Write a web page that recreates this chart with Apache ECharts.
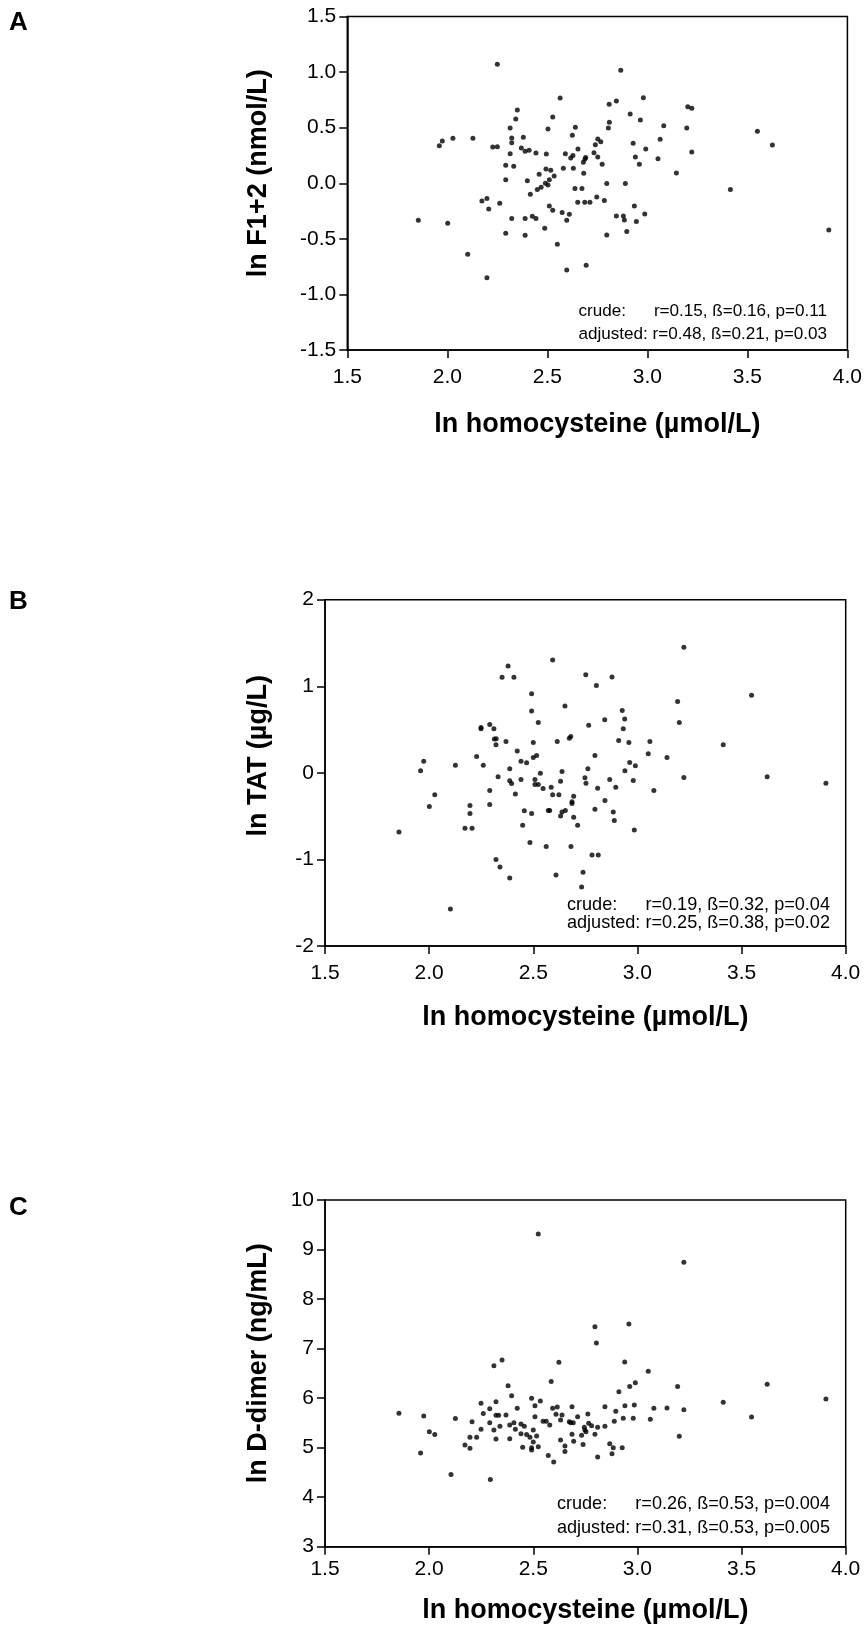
<!DOCTYPE html>
<html>
<head>
<meta charset="utf-8">
<script src="https://cdn.jsdelivr.net/npm/echarts/dist/echarts.min.js"></script>
<style>
html,body{margin:0;padding:0;background:#fff;}
#chart{width:865px;height:1633px;}
</style>
</head>
<body>
<div id="chart"></div>
<script>
// ---- Panel A: ln homocysteine vs ln F1+2 ----
const aX = [2.25,2.564,2.35,2.342,2.527,2.314,2.503,2.64,2.625,1.96,1.975,2.028,2.128,2.322,2.38,2.322,2.227,2.25,2.37,2.389,2.409,2.443,2.495,2.314,2.59,2.617,2.628,2.653,2.692,2.688,2.68,2.733,2.74,2.752,2.752,2.292,2.332,2.493,2.517,2.58,2.63,2.682,2.292,2.4,2.459,2.534,2.51,2.49,2.503,2.469,2.45,2.415,2.638,2.673,2.652,2.687,2.713,2.747,2.173,2.198,2.207,2.262,2.51,2.527,2.574,2.61,2.597,1.855,2.002,2.322,2.389,2.425,2.443,2.292,2.389,2.487,2.55,2.102,2.198,2.597,2.694,2.767,2.867,2.809,2.845,2.98,2.914,2.965,2.81,2.805,3.202,3.222,3.082,3.197,3.55,3.625,3.064,2.929,2.992,3.222,2.94,3.053,2.96,2.774,3.145,2.797,2.89,3.415,2.785,2.935,2.845,2.88,2.885,2.945,2.987,2.897,2.797,3.907];
const aY = [1.07,0.767,0.659,0.578,0.596,0.497,0.488,0.503,0.431,0.338,0.38,0.405,0.405,0.407,0.413,0.365,0.326,0.329,0.317,0.288,0.297,0.272,0.263,0.266,0.266,0.228,0.25,0.308,0.231,0.219,0.189,0.275,0.347,0.398,0.236,0.162,0.153,0.129,0.117,0.135,0.135,0.09,0.032,0.023,0.081,0.066,0.032,0.0,-0.015,-0.036,-0.057,-0.099,-0.048,-0.048,-0.171,-0.171,-0.171,-0.123,-0.159,-0.138,-0.231,-0.18,-0.204,-0.243,-0.264,-0.279,-0.333,-0.333,-0.36,-0.318,-0.318,-0.297,-0.318,-0.45,-0.468,-0.405,-0.549,-0.639,-0.849,-0.78,-0.737,0.374,1.016,0.71,0.74,0.77,0.623,0.569,0.548,0.497,0.689,0.674,0.518,0.497,0.468,0.344,0.396,0.36,0.308,0.281,0.237,0.221,0.171,0.171,0.093,-0.003,-0.003,-0.057,-0.156,-0.204,-0.294,-0.294,-0.33,-0.345,-0.276,-0.435,-0.465,-0.42];

// ---- Panel B: ln homocysteine vs ln TAT ----
const bX = [1.855,1.959,1.974,2.001,2.027,2.102,2.126,2.172,2.206,2.196,2.196,2.228,2.249,2.249,2.26,2.291,2.311,2.313,2.322,2.321,2.291,2.291,2.331,2.321,2.34,2.35,2.379,2.407,2.369,2.387,2.387,2.396,2.387,2.414,2.423,2.441,2.441,2.457,2.449,2.468,2.484,2.492,2.492,2.5,2.5,2.516,2.524,2.492,2.508,2.508,2.524,2.534,2.547,2.562,2.586,2.593,2.593,2.572,2.579,2.609,2.615,2.623,2.631,2.638,2.631,2.638,2.652,2.654,2.673,2.68,2.686,2.686,2.694,2.694,2.681,2.713,2.739,2.732,2.752,2.748,2.753,2.766,2.762,2.803,2.878,3.223,3.548,3.193,3.201,2.843,2.927,2.939,2.932,2.91,2.959,3.06,3.052,3.142,3.412,2.796,2.963,2.99,2.94,2.867,2.98,3.223,3.623,3.905,2.809,2.896,3.079,2.844,2.796,2.884,2.889,2.985,2.782,2.812];
const bY = [-0.682,0.023,0.135,-0.389,-0.254,-1.572,0.089,-0.639,-0.639,-0.377,-0.47,0.19,0.525,0.51,0.089,0.559,0.509,0.39,0.393,0.324,-0.204,-0.366,-0.046,-1.001,-1.087,1.103,1.234,1.103,0.363,0.046,-0.092,-0.123,-1.214,-0.243,0.251,0.135,-0.077,-0.439,-0.605,0.116,-0.805,0.913,0.713,0.351,0.178,0.2,0.583,-0.47,-0.077,-0.135,-0.135,-0.004,-0.181,-0.851,-0.165,1.303,-0.254,-0.435,-0.435,-1.179,0.363,-0.254,-0.096,0.016,-0.497,-0.451,0.771,-0.435,0.401,0.421,-0.335,-0.355,-0.269,-0.512,-0.851,-0.605,-1.148,-1.318,1.133,-0.058,-0.119,0.551,0.046,1.01,1.106,1.45,0.895,0.825,0.583,0.613,0.721,0.621,0.509,0.374,0.351,0.363,0.22,0.178,0.324,0.2,0.12,0.081,0.023,-0.077,-0.088,-0.054,-0.046,-0.119,-0.177,-0.165,-0.204,-0.32,-0.42,-0.451,-0.551,-0.659,-0.948,-0.948];

// ---- Panel C: ln homocysteine vs ln D-dimer ----
const cX = [2.524,1.855,1.974,1.959,2.001,2.027,2.126,2.172,2.196,2.196,2.206,2.228,2.249,2.249,2.26,2.291,2.291,2.311,2.35,2.321,2.321,2.334,2.311,2.321,2.34,2.369,2.379,2.396,2.387,2.387,2.407,2.414,2.423,2.441,2.441,2.457,2.449,2.468,2.484,2.492,2.492,2.492,2.5,2.5,2.508,2.508,2.516,2.524,2.534,2.547,2.562,2.579,2.572,2.586,2.593,2.615,2.609,2.623,2.631,2.638,2.631,2.652,2.652,2.673,2.68,2.692,2.686,2.686,2.694,2.713,2.732,2.739,2.745,2.748,2.753,2.762,2.766,2.105,2.294,2.598,3.223,2.796,2.803,2.959,2.939,3.052,3.193,3.623,3.905,3.412,3.548,3.223,3.201,2.911,2.963,2.99,2.844,2.896,2.94,2.985,3.079,3.142,2.889,2.932,2.98,3.062,2.78,2.809,2.844,2.796,2.867,2.884,2.878,2.927,2.809];
const cY = [9.314,5.694,5.64,4.893,5.323,5.263,5.586,5.054,4.987,5.21,5.525,5.21,5.896,5.371,5.687,5.787,5.505,6.655,6.77,5.929,5.654,5.654,5.357,5.176,5.432,5.66,6.252,6.05,5.458,5.18,5.505,5.371,5.794,5.478,5.283,5.432,5.007,5.263,5.21,5.997,4.996,4.954,5.357,5.115,5.848,5.626,5.236,5.02,5.943,5.532,5.532,5.458,4.839,6.333,5.794,5.821,5.674,6.723,5.559,5.66,5.155,5.034,4.92,5.525,5.505,5.505,5.828,5.27,5.129,5.626,5.25,5.061,5.411,5.357,5.323,5.68,5.49,4.459,4.358,4.709,8.742,7.443,7.113,7.497,6.73,6.542,6.232,6.279,5.983,5.916,5.62,5.767,5.23,6.131,6.232,6.312,5.828,5.734,5.848,5.862,5.794,5.80,5.532,5.593,5.593,5.573,5.444,5.411,5.432,5.27,5.081,5.0,4.879,5.0,4.812];

// ---- texts ----
const panelLetters = ['A', 'B', 'C'];
const xTitle = 'ln homocysteine (\u00b5mol/L)';
const yTitles = ['ln F1+2 (nmol/L)', 'ln TAT (\u00b5g/L)', 'ln D-dimer (ng/mL)'];
const yRanges = [[-1.5, 1.5, 0.5, 1], [-2, 2, 1, 0], [3, 10, 1, 0]]; // min, max, interval, decimals
const xRange = [1.5, 4.0, 0.5, 1];
const statsCrude = ['r=0.15, \u00df=0.16, p=0.11', 'r=0.19, \u00df=0.32, p=0.04', 'r=0.26, \u00df=0.53, p=0.004'];
const statsAdj = ['adjusted: r=0.48, \u00df=0.21, p=0.03', 'adjusted: r=0.25, \u00df=0.38, p=0.02', 'adjusted: r=0.31, \u00df=0.53, p=0.005'];

const FONT = '"Liberation Sans", Arial, Helvetica, sans-serif';
const grids = [
  {left: 347.3, top: 16.5, width: 500.2, height: 333.5},
  {left: 325, top: 599.7, width: 520.7, height: 346.3},
  {left: 325, top: 1200, width: 520.7, height: 346.7}
];
const xLabelMargin = [17, 17, 12];
const xNameGap = [61, 58, 50];
const yNameShift = [20, 34, 20];   // shifts the rotated y title upward (half of this value)
const letterPos = [[9, 10], [9, 589], [9, 1195]];
const statPos = [ // right edge, y crude, y adjusted, font size
  [827, 311, 334, 17.1],
  [830, 905, 923, 18.1],
  [830, 1504, 1528, 18.1]
];

const axisLine = {show: true, onZero: false, lineStyle: {color: '#000', width: 1.5}};
const axisTick = {show: true, inside: false, length: 8, lineStyle: {color: '#000', width: 1.5}};

const pairs = (xs, ys) => xs.map((x, i) => [x, ys[i]]);
const datasets = [pairs(aX, aY), pairs(bX, bY), pairs(cX, cY)];

const measure = (txt, font) => {
  const ctx = document.createElement('canvas').getContext('2d');
  ctx.font = font;
  return ctx.measureText(txt).width;
};

const option = {
  animation: false,
  backgroundColor: '#fff',
  grid: grids.map(g => Object.assign({show: true, borderColor: '#000', borderWidth: 1.5, containLabel: false}, g)),
  xAxis: grids.map((g, i) => ({
    type: 'value', gridIndex: i,
    min: xRange[0], max: xRange[1], interval: xRange[2],
    axisLine, axisTick, splitLine: {show: false},
    axisLabel: {color: '#000', fontSize: 21, fontFamily: FONT, margin: xLabelMargin[i], showMinLabel: true, showMaxLabel: true,
      formatter: v => v.toFixed(xRange[3])},
    name: xTitle, nameLocation: 'middle', nameGap: xNameGap[i],
    nameTextStyle: {color: '#000', fontSize: 27, fontWeight: 'bold', fontFamily: FONT}
  })),
  yAxis: grids.map((g, i) => ({
    type: 'value', gridIndex: i,
    min: yRanges[i][0], max: yRanges[i][1], interval: yRanges[i][2],
    axisLine, axisTick, splitLine: {show: false},
    axisLabel: {color: '#000', fontSize: 21, fontFamily: FONT, margin: 11, showMinLabel: true, showMaxLabel: true,
      formatter: v => v.toFixed(yRanges[i][3])},
    name: yTitles[i], nameLocation: 'middle', nameGap: g.left - 259 - 13.5,
    nameTextStyle: {color: '#000', fontSize: 27, fontWeight: 'bold', fontFamily: FONT, padding: [0, 0, 0, yNameShift[i]]}
  })),
  series: datasets.map((d, i) => ({
    type: 'scatter', xAxisIndex: i, yAxisIndex: i,
    data: d, symbol: 'circle', symbolSize: 5,
    itemStyle: {color: '#000'}
  })),
  graphic: [].concat(
    panelLetters.map((t, i) => ({
      type: 'text', left: letterPos[i][0], top: letterPos[i][1],
      style: {text: t, font: 'bold 26px ' + FONT, fill: '#000'}
    })),
    statPos.flatMap((p, i) => {
      const f = p[3] + 'px ' + FONT;
      const adjW = measure(statsAdj[i], f);
      return [
        {type: 'text', x: p[0], y: p[1], style: {text: statsCrude[i], font: f, fill: '#000', textVerticalAlign: 'middle', textAlign: 'right'}},
        {type: 'text', x: p[0] - adjW, y: p[1], style: {text: 'crude:', font: f, fill: '#000', textVerticalAlign: 'middle', textAlign: 'left'}},
        {type: 'text', x: p[0], y: p[2], style: {text: statsAdj[i], font: f, fill: '#000', textVerticalAlign: 'middle', textAlign: 'right'}}
      ];
    })
  )
};

const chart = echarts.init(document.getElementById('chart'), null, {renderer: 'canvas'});
chart.setOption(option);
</script>
</body>
</html>
